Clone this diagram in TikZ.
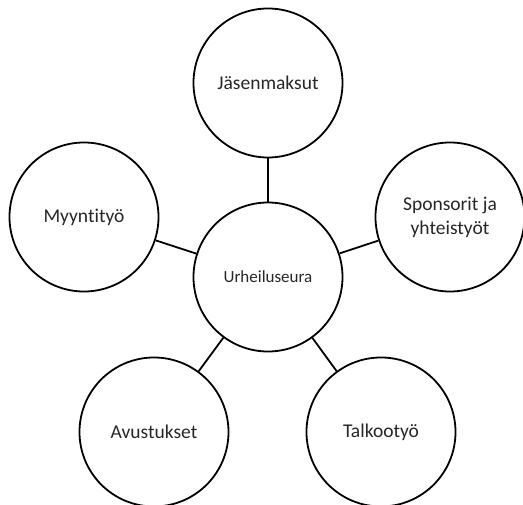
\documentclass[tikz,border=0pt]{standalone}
\usepackage{fontspec}
\setmainfont{Carlito}[Ligatures={NoCommon}]
\begin{document}
\begin{tikzpicture}[x=1pt,y=-1pt,
  bubble/.style={draw=black, line width=1.8pt, circle, minimum size=149pt, inner sep=0pt, align=center, font=\fontsize{19.5}{24}\selectfont, text=black!85},
  spoke/.style={draw=black, line width=1.8pt}]
\useasboundingbox (0,0) rectangle (523,505);
\node[bubble, font=\fontsize{17}{20}\selectfont] (c) at (268,277) {Urheiluseura};
\node[bubble] (t) at (268,83) {Jäsenmaksut};
\node[bubble] (l) at (84,217) {Myyntityö};
\node[bubble] (r) at (450,217) {Sponsorit ja\\yhteistyöt};
\node[bubble] (bl) at (154,432) {Avustukset};
\node[bubble] (br) at (381,432) {Talkootyö};
\draw[spoke] (c) -- (t);
\draw[spoke] (c) -- (l);
\draw[spoke] (c) -- (r);
\draw[spoke] (c) -- (bl);
\draw[spoke] (c) -- (br);
\end{tikzpicture}
\end{document}
